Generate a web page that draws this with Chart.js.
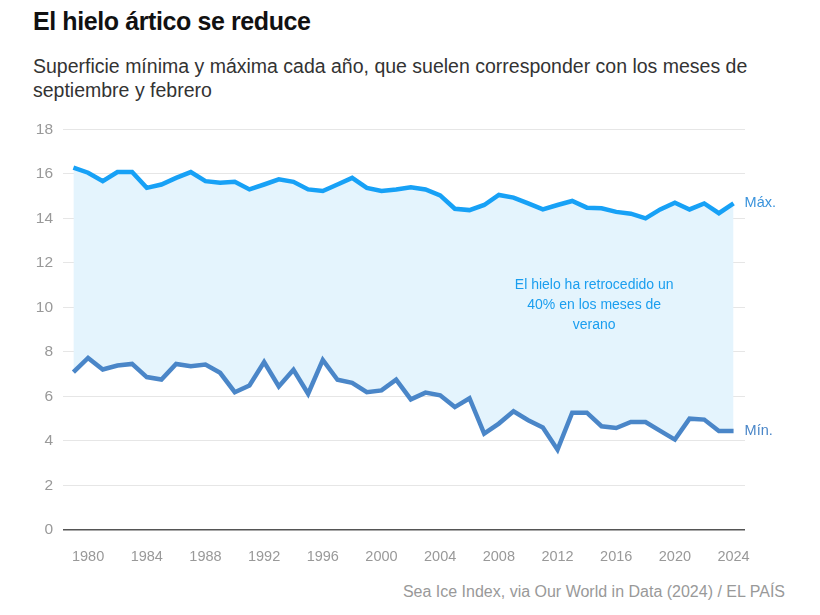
<!DOCTYPE html>
<html lang="es">
<head>
<meta charset="utf-8">
<script src="https://cdn.jsdelivr.net/npm/chart.js@4"></script>
<style>
  body { margin: 0; background: #fff; font-family: "Liberation Sans", Arial, sans-serif; }
  #wrap { position: relative; width: 820px; height: 615px; }
  h1 { position: absolute; left: 33px; top: 7px; margin: 0; font-size: 25px; font-weight: bold; color: #111; letter-spacing: -0.4px; }
  .sub { position: absolute; left: 33px; top: 54px; margin: 0; font-size: 19.5px; line-height: 24px; color: #333; }
  #box { position: absolute; left: 0; top: 110px; width: 820px; height: 455px; }
  .src { position: absolute; right: 35px; top: 583px; font-size: 16px; color: #999; }
</style>
</head>
<body>
<div id="wrap">
  <h1>El hielo ártico se reduce</h1>
  <p class="sub">Superficie mínima y máxima cada año, que suelen corresponder con los meses de<br>septiembre y febrero</p>
  <div id="box"><canvas id="iceChart"></canvas></div>
  <div class="src">Sea Ice Index, via Our World in Data (2024) / EL PAÍS</div>
</div>
<script>
// Años y superficie (millones de km²)
const years = [1979, 1980, 1981, 1982, 1983, 1984, 1985, 1986, 1987, 1988, 1989, 1990,
  1991, 1992, 1993, 1994, 1995, 1996, 1997, 1998, 1999, 2000, 2001, 2002, 2003, 2004,
  2005, 2006, 2007, 2008, 2009, 2010, 2011, 2012, 2013, 2014, 2015, 2016, 2017, 2018,
  2019, 2020, 2021, 2022, 2023, 2024]
const maxIce = [16.28, 16.05, 15.67, 16.08, 16.08, 15.37, 15.52, 15.82, 16.08, 15.67, 15.6, 15.64,
  15.3, 15.52, 15.75, 15.64, 15.3, 15.23, 15.52, 15.82, 15.37, 15.23, 15.3, 15.4, 15.3, 15.03,
  14.43, 14.37, 14.6, 15.05, 14.93, 14.67, 14.4, 14.6, 14.78, 14.48, 14.45, 14.29, 14.21, 14.0,
  14.4, 14.7, 14.4, 14.67, 14.23, 14.67]
const minIce = [7.09, 7.73, 7.21, 7.39, 7.46, 6.87, 6.76, 7.46, 7.36, 7.43, 7.06, 6.19,
  6.49, 7.54, 6.45, 7.2, 6.12, 7.64, 6.75, 6.61, 6.19, 6.27, 6.75, 5.87, 6.17, 6.05,
  5.52, 5.92, 4.33, 4.78, 5.33, 4.93, 4.6, 3.61, 5.27, 5.27, 4.66, 4.58, 4.85, 4.85,
  4.45, 4.06, 5.0, 4.96, 4.45, 4.45]
const yearTicks = [1980, 1984, 1988, 1992, 1996, 2000, 2004, 2008, 2012, 2016, 2020, 2024]
const noteLines = ["El hielo ha retrocedido un", "40% en los meses de", "verano"]

const FONT = "'Liberation Sans', Arial, sans-serif"

// etiquetas Máx. / Mín. y nota
const labelsPlugin = {
  id: "labels",
  afterDatasetsDraw(chart) {
    const { ctx, scales } = chart
    const x = scales.x, y = scales.y
    ctx.save()
    ctx.font = "14.5px " + FONT
    ctx.textBaseline = "middle"
    ctx.textAlign = "left"
    const last = years.length - 1
    ctx.fillStyle = "#3a93dc"
    ctx.fillText("Máx.", x.getPixelForValue(years[last]) + 11, y.getPixelForValue(maxIce[last]))
    ctx.fillStyle = "#4a86c8"
    ctx.fillText("Mín.", x.getPixelForValue(years[last]) + 11, y.getPixelForValue(minIce[last]))
    ctx.textAlign = "center"
    ctx.fillStyle = "#1a9eef"
    ctx.font = "14px " + FONT
    const cx = x.getPixelForValue(2014.5)
    noteLines.forEach((t, i) => {
      ctx.fillText(t, cx, y.getPixelForValue(11) + i * 20)
    })
    ctx.restore()
  },
}

new Chart(document.getElementById("iceChart"), {
  type: "line",
  data: {
    labels: years,
    datasets: [
      {
        label: "Máx.",
        data: years.map((yr, i) => ({ x: yr, y: maxIce[i] })),
        borderColor: "#17a1f6",
        borderWidth: 4.5,
        pointRadius: 0,
        tension: 0,
        fill: false,
      },
      {
        label: "Mín.",
        data: years.map((yr, i) => ({ x: yr, y: minIce[i] })),
        borderColor: "#4a86c8",
        backgroundColor: "#e4f4fd",
        borderWidth: 4.5,
        pointRadius: 0,
        tension: 0,
        fill: "-1",
      },
    ],
  },
  options: {
    responsive: true,
    maintainAspectRatio: false,
    animation: false,
    layout: { padding: { top: 18, right: 75, left: 0, bottom: 0 } },
    plugins: {
      legend: { display: false },
      tooltip: { enabled: false },
    },
    scales: {
      x: {
        type: "linear",
        min: 1978.29,
        max: 2024.78,
        afterBuildTicks: (axis) => { axis.ticks = yearTicks.map((v) => ({ value: v })) },
        afterFit: (axis) => { axis.height = 35 },
        grid: { display: false },
        border: { display: false },
        ticks: {
          color: "#999",
          font: { size: 14.5, family: FONT },
          padding: 10,
          maxRotation: 0,
          autoSkip: false,
          callback: (v) => String(v),
        },
      },
      y: {
        min: 0,
        max: 18,
        afterFit: (axis) => { axis.width = 63 },
        ticks: {
          stepSize: 2,
          color: "#999",
          font: { size: 15.5, family: FONT },
          padding: 10,
        },
        grid: {
          drawTicks: false,
          color: (c) => (c.tick.value === 0 ? "#555" : "#e6e6e6"),
          lineWidth: (c) => (c.tick.value === 0 ? 1.5 : 1),
        },
        border: { display: false },
      },
    },
  },
  plugins: [labelsPlugin],
})
</script>
</body>
</html>
